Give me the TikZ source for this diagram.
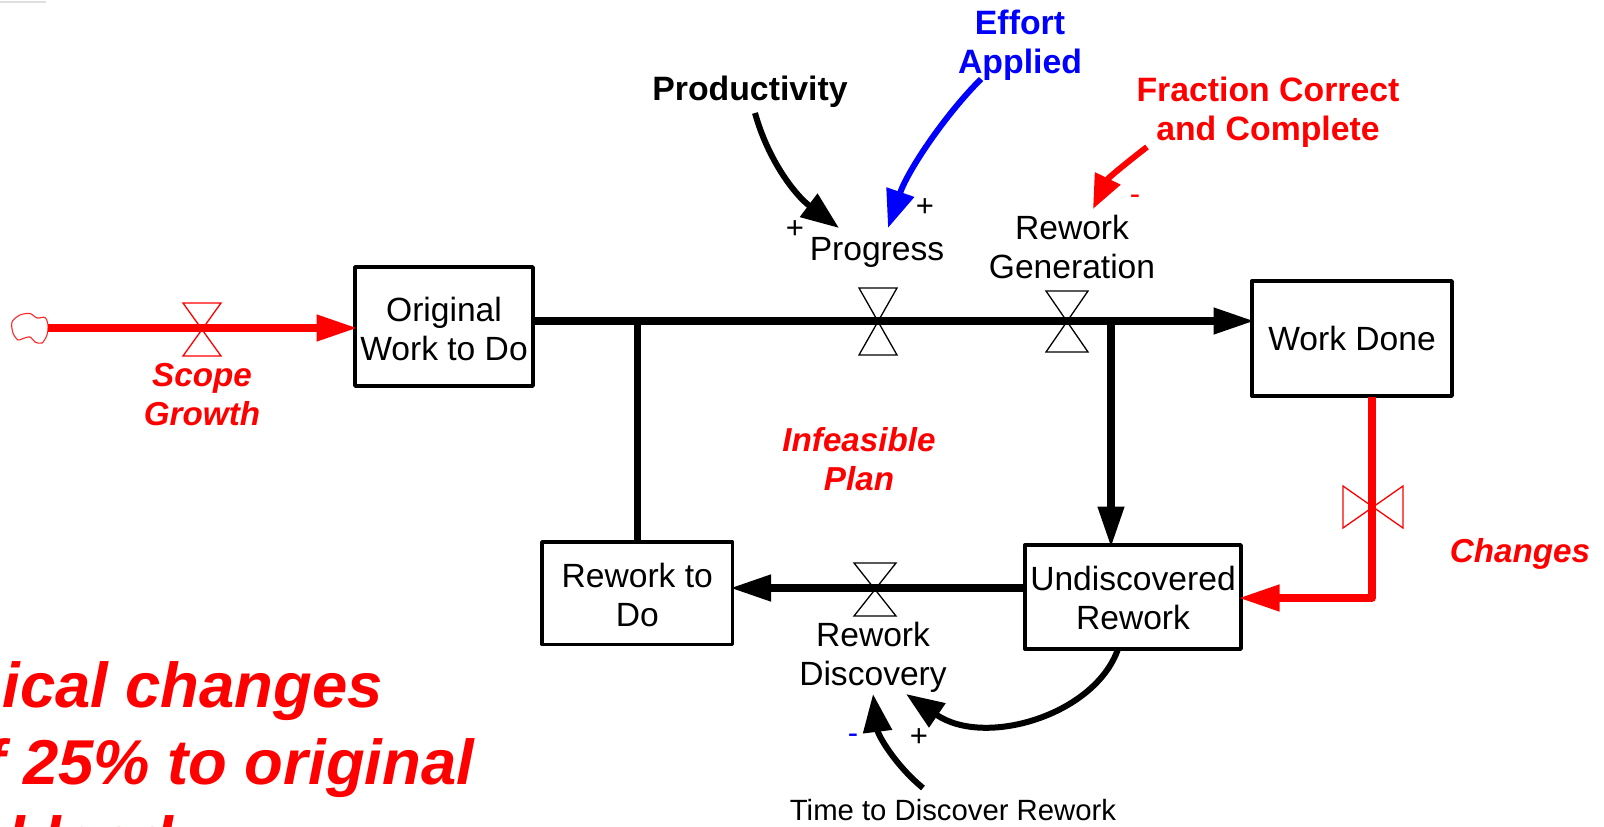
\documentclass[tikz,border=0pt]{standalone}
\usepackage{fontspec}
\setmainfont{Liberation Sans}
\usetikzlibrary{arrows.meta}
\definecolor{rd}{RGB}{255,0,0}
\definecolor{bl}{RGB}{0,0,255}
\tikzset{
  box/.style={draw=black,line width=3.4pt,line join=round,fill=white,inner sep=0pt,outer sep=0pt,align=center,font=\fontsize{33.6}{39}\selectfont},
  lab/.style={inner sep=0pt,outer sep=0pt,align=center,anchor=base,font=\fontsize{33.6}{39}\selectfont},
  blab/.style={lab,font=\fontsize{33.8}{39}\selectfont\bfseries},
  ilab/.style={lab,text=rd,font=\fontsize{33.2}{39}\selectfont\bfseries\itshape},
  biglab/.style={inner sep=0pt,outer sep=0pt,anchor=base east,text=rd,font=\fontsize{63.4}{77}\selectfont\bfseries\itshape},
  sign/.style={inner sep=0pt,outer sep=0pt,anchor=base,font=\fontsize{31}{34}\selectfont},
  flowblk/.style={line width=7.5pt,black},
  flowred/.style={line width=7.5pt,rd,line join=round},
  valveblk/.style={draw=black,line width=1.3pt,line join=miter},
  valvered/.style={draw=rd,line width=1.3pt,line join=miter},
  pivot/.style={inner sep=0pt,outer sep=0pt,minimum size=0pt},
  link/.style={line width=6pt},
  headbig/.style={-{Triangle[length=38pt,width=28pt]}},
  headsmall/.style={-{Triangle[length=34pt,width=27pt]}},
  fhead/.style={-{Triangle[length=41pt,width=25pt]},shorten >=-2.5pt},
}
\newcommand{\bowtieV}[4]{\draw[#1] (#2)+(-#3,-#4) -- +(#3,-#4) -- +(-#3,#4) -- +(#3,#4) -- cycle;}
\newcommand{\bowtieH}[4]{\draw[#1] (#2)+(-#3,-#4) -- +(#3,#4) -- +(#3,-#4) -- +(-#3,#4) -- cycle;}
\begin{document}
\begin{tikzpicture}[x=1pt,y=-1pt]
\useasboundingbox (0,0) rectangle (1604,827);
\clip (0,0) rectangle (1604,827);
\fill[white] (0,0) rectangle (1604,827);
\draw[gray!25,line width=2pt] (0,2) -- (46,2);

% stocks
\node[box,minimum width=178pt,minimum height=119pt] (orig) at (444,326.5) {\rule{0pt}{28.5pt}Original\\Work to Do};
\node[box,minimum width=200pt,minimum height=115pt] (wd) at (1352,338.5) {Work Done};
\node[box,minimum width=190.5pt,minimum height=102.5pt] (rtd) at (637.25,593.2) {\rule{0pt}{28pt}Rework to\\Do};
\node[box,minimum width=216pt,minimum height=104pt] (ur) at (1133,597) {\rule{0pt}{26.5pt}Undiscovered\\Rework};

% valve centres
\node[pivot] (vs) at (202,329.5) {};
\node[pivot] (vp) at (878,321.5) {};
\node[pivot] (vg) at (1067,321.5) {};
\node[pivot] (vd) at (875,589.5) {};
\node[pivot] (vc) at (1373,507) {};

% cloud
\coordinate (cloud) at (48,328);
\draw[rd!85,line width=1.1pt] plot[smooth cycle,tension=.5] coordinates {(12,322) (20,315) (30,313.5) (37,318) (45,317.5) (48,325) (47,335) (42,343) (35,342) (30,337) (23,338.5) (18,340) (13,333)};

% flows
\draw[flowred,fhead] (cloud) -- (orig.west |- cloud);
\coordinate (jr) at (1111,321);
\coordinate (jl) at (rtd.north |- jr);
\draw[flowblk,fhead] (orig.east |- jr) -- (wd.west |- jr);
\draw[flowblk] (jl) -- (rtd.north);
\draw[flowblk,fhead] (jr) -- (jr |- ur.north);
\coordinate (dy) at (0,588);
\draw[flowblk,fhead] (ur.west |- dy) -- (rtd.east |- dy);
\coordinate (cs) at (1372,397);
\coordinate (ce) at (1372,598);
\draw[flowred,fhead] (cs) -- (ce) -- (ur.east |- ce);

% valves
\bowtieV{valvered}{vs}{19}{26.5}
\bowtieV{valveblk}{vp}{19}{33.5}
\bowtieV{valveblk}{vg}{21}{30.5}
\bowtieV{valveblk}{vd}{21}{26.5}
\bowtieH{valvered}{vc}{30}{21}

% labels
\node[ilab] (sg) at (202,425) {Scope\\Growth};
\node[ilab] (ip) at (859,490) {Infeasible\\Plan};
\node[ilab] (ch) at (1520,562) {Changes};
\node[lab] (pr) at (877,260) {Progress};
\node[lab] (rg) at (1072,278) {Rework\\Generation};
\node[lab] (rd1) at (873,685) {Rework\\Discovery};
\node[lab,font=\fontsize{29.3}{34}\selectfont] (tt) at (953,820) {Time to Discover Rework};
\node[blab] (pd) at (750,100) {Productivity};
\node[blab,text=bl] (ef) at (1020,73) {Effort\\Applied};
\node[blab,text=rd] (fc) at (1268,140) {Fraction Correct\\and Complete};

% links
\coordinate (pds) at (755,113);
\coordinate (prn) at (839,228);
\draw[link,black,headbig] (pds) .. controls (768,160) and (795,195) .. (prn);
\coordinate (efs) at (981,79);
\coordinate (prm) at (888,228);
\draw[link,bl,headbig] (efs) .. controls (945,115) and (908,170) .. (prm);
\coordinate (fcs) at (1147,147);
\coordinate (rgn) at (1093,209);
\draw[link,rd,headsmall] (fcs) .. controls (1130,160) and (1108,178) .. (rgn);
\coordinate (urs) at (1118,649);
\coordinate (rda) at (906,694);
\draw[link,black,headbig] (urs) .. controls (1095,715) and (985,748) .. (rda);
\coordinate (tts) at (923,788);
\coordinate (rdb) at (873,694);
\draw[link,black,headbig] (tts) .. controls (895,765) and (878,735) .. (rdb);

% polarity signs
\node[sign] (s1) at (795,238) {+};
\node[sign] (s2) at (925,216) {+};
\node[sign,text=rd] (s3) at (1135,204) {-};
\node[sign,text=bl] (s4) at (853,743) {-};
\node[sign] (s5) at (919,746) {+};

% clipped statement
\node[biglab] (b1) at (383,707) {ical changes};
\node[biglab] (b2) at (474,784) {f 25\% to original};
\node[biglab,anchor=base west] (b3) at (8,861) {kload};
\end{tikzpicture}
\end{document}
